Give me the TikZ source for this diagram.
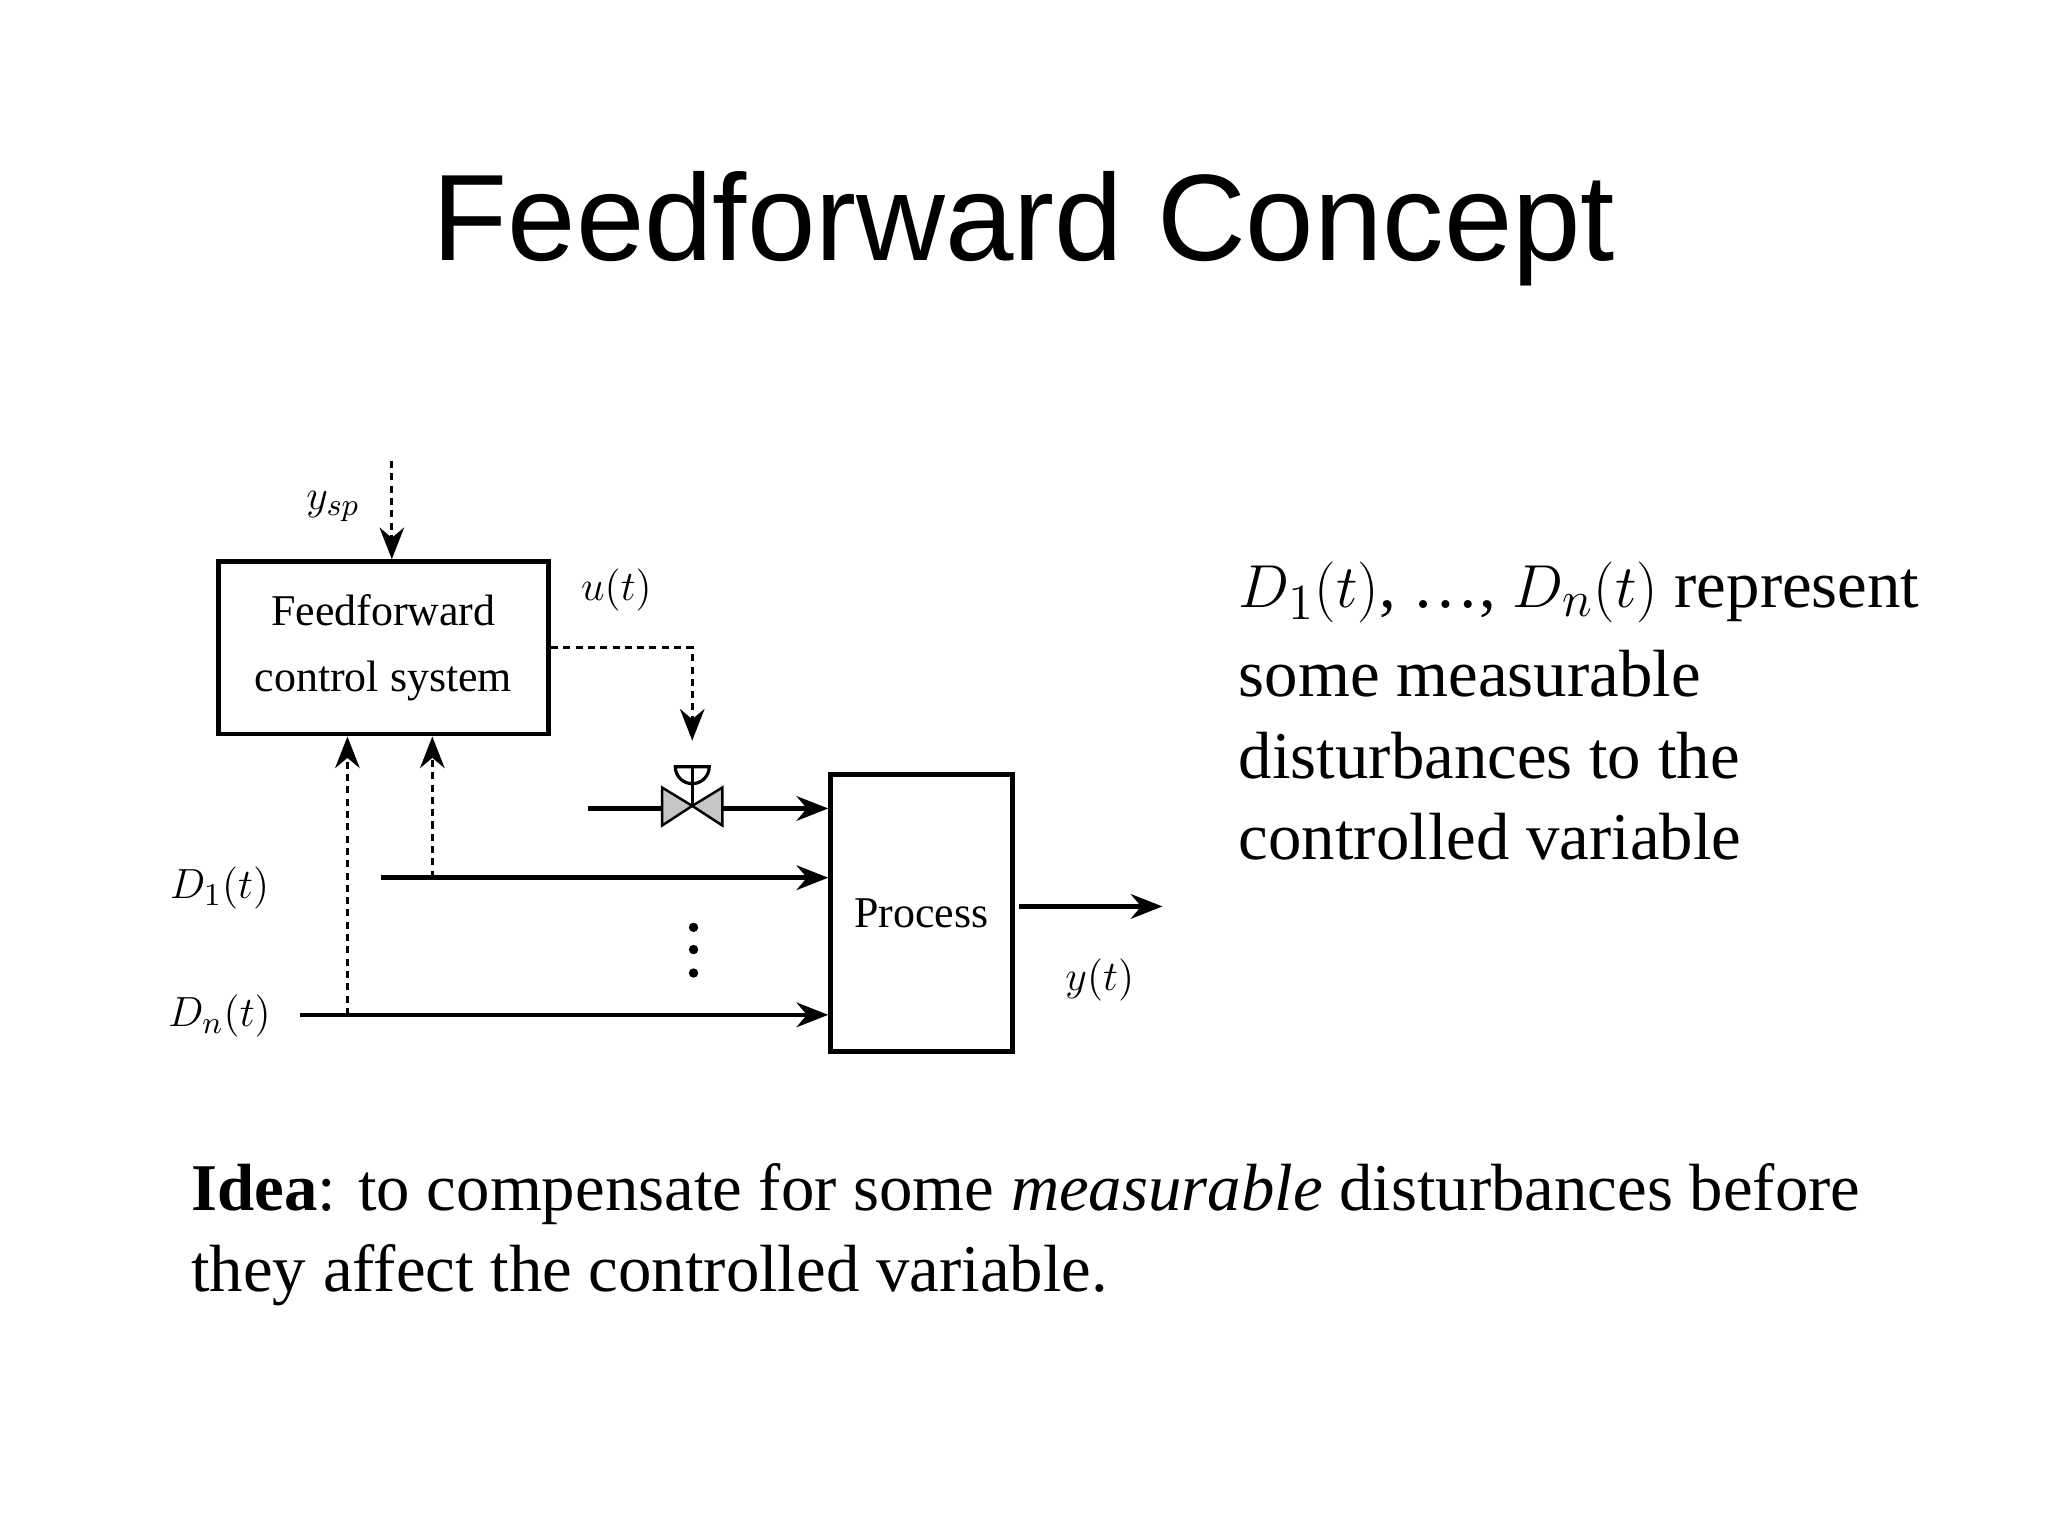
\documentclass[tikz,border=0pt]{standalone}
\usepackage{fontspec}
\setmainfont{Liberation Serif}
\newfontfamily\titlefont{Liberation Sans}
\usetikzlibrary{arrows.meta}
\begin{document}
\begin{tikzpicture}[x=0.013061cm,y=-0.013061cm,
  lab/.style={font=\fontsize{12.5pt}{15pt}\selectfont,inner sep=0},
  big/.style={font=\fontsize{19pt}{23pt}\selectfont,inner sep=0,anchor=base west},
  sig/.style={line width=1.3pt,-{Stealth[length=9pt,width=7pt]}},
  dsig/.style={line width=0.9pt,densely dashed,dash pattern=on 2pt off 1.5pt,-{Stealth[length=9pt,width=7pt]}},
  blk/.style={draw,line width=1.4pt,inner sep=0}]
\useasboundingbox (0,0) rectangle (1568,1176);
\node[font=\titlefont\fontsize{35pt}{40pt}\selectfont] (title) at (784,175) {Feedforward Concept};
% boxes
\node[blk,minimum width=253*0.013061cm,minimum height=132*0.013061cm,align=center,lab] (ff) at (293.5,496) {Feedforward\\[4pt]control system};
\node[blk,minimum width=139*0.013061cm,minimum height=212*0.013061cm,lab] (proc) at (705.5,699) {Process};
% set point
\coordinate (sptop) at (300,353);
\node[lab] (ysp) at (255,388) {$y_{sp}$};
\draw[dsig] (sptop) -- (ff.north -| sptop);
% u(t)
\node[lab] (ut) at (472,452) {$u(t)$};
\coordinate (uc) at (530,496);
\coordinate (vtop) at (530,567);
\draw[dsig] (ff.east |- uc) -- (uc) -- (vtop);
% valve
\coordinate (vc) at (530,617);
\draw[line width=0.9pt] (517,587) arc (180:0:13) -- cycle;
\draw[line width=0.9pt] (530,587) -- (vc);
\draw[line width=0.7pt,fill=gray!45] (507,603) -- (507,632) -- (vc) -- cycle;
\draw[line width=0.7pt,fill=gray!45] (553,603) -- (553,632) -- (vc) -- cycle;
\coordinate (vin) at (450,619);
\coordinate (vout) at (553,619);
\draw[line width=1.3pt] (vin) -- (507,619);
\draw[sig] (vout) -- (proc.west |- vout);
% disturbances
\node[lab] (d1) at (168,680) {$D_1(t)$};
\node[lab] (dn) at (168,778) {$D_n(t)$};
\coordinate (d1s) at (292,672);
\coordinate (dns) at (230,777);
\draw[sig] (d1s) -- (proc.west |- d1s);
\draw[sig] (dns) -- (proc.west |- dns);
\coordinate (d1t) at (331,672);
\coordinate (dnt) at (266,777);
\draw[dsig] (d1t) -- (d1t |- ff.south);
\draw[dsig] (dnt) -- (dnt |- ff.south);
\foreach \yy in {710,727,745} \fill (531,\yy) circle (3.6);
% output
\coordinate (yend) at (890,694);
\draw[sig] (proc.east |- yend) ++(3,0) -- (yend);
\node[lab] (yt) at (842,750) {$y(t)$};
% right text
\node[big] (r1) at (948,465) {$D_{1}(t)$, \ldots, $D_{n}(t)$ represent};
\node[big] (r2) at (948,533) {some measurable};
\node[big] (r3) at (948,596) {disturbances to the};
\node[big] (r4) at (948,658) {controlled variable};
% idea
\node[big] (i1) at (146,927) {\textbf{Idea}: to compensate for some \textit{measurable} disturbances before};
\node[big] (i2) at (146,989) {they affect the controlled variable.};
\end{tikzpicture}
\end{document}
